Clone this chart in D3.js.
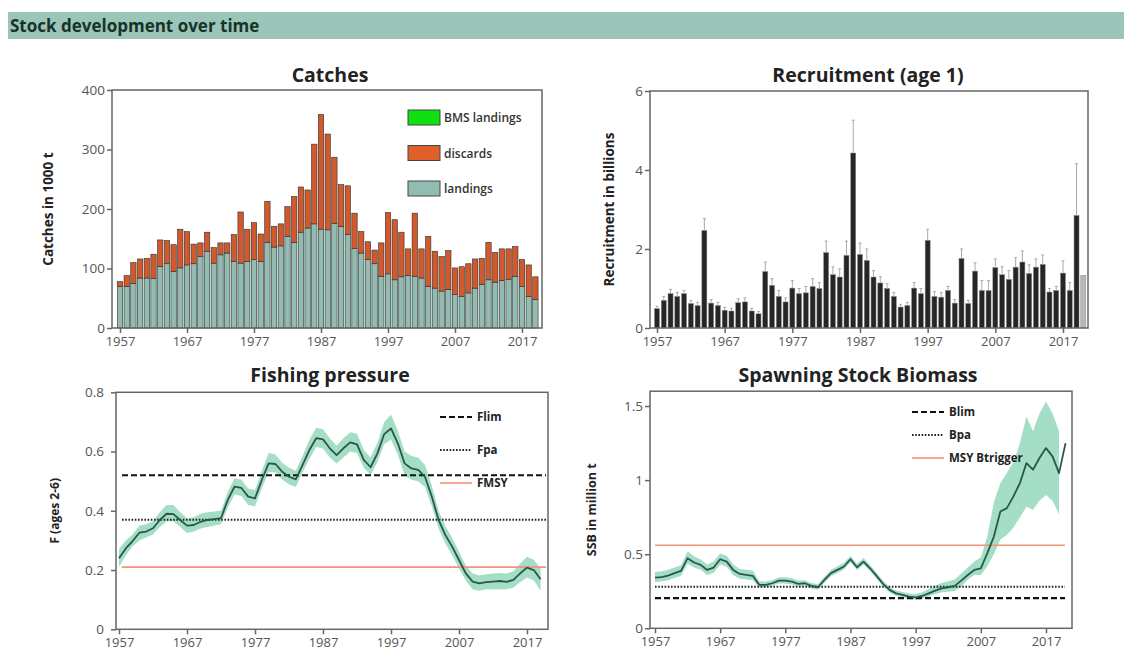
<!DOCTYPE html>
<html>
  <head>
    <meta charset="utf-8" />
    <title>Stock development over time</title>
    <style>
      body {
        margin: 0;
        background: #fff;
      }
      text {
        font-family: "Open Sans", sans-serif;
      }
    </style>
    <script src="https://cdn.jsdelivr.net/npm/d3@7"></script>
  </head>
  <body>
    <svg id="chart" width="1124" height="653"></svg>
    <script>
      // years
      var catchYears = d3.range(1957, 2020);
      var recYears = d3.range(1957, 2021);
      var fYears = d3.range(1957, 2020);
      var ssbYears = d3.range(1957, 2021);
      var tickYears = [1957, 1967, 1977, 1987, 1997, 2007, 2017];

      // catches (1000 t)
      var landings = [70,70,75,84,84,83,103,108,95,101, 106,108,120,129,109,123,126,112,109,112,
        115,112,144,136,138,154,144,161,168,175, 166,165,176,171,157,134,126,115,108,87,
        91,81,86,88,87,84,70,67,62,65, 56,53,59,67,73,81,77,80,82,87, 70,53,48];
      var discards = [8,18,35,32,33,41,45,39,45,65, 56,33,23,32,26,20,17,45,86,54,
        62,46,69,35,37,50,77,76,64,134, 193,161,111,70,82,59,36,30,23,56,
        103,101,75,45,106,49,84,62,58,65, 45,50,49,49,44,63,50,53,51,50, 45,53,38];

      // recruitment (billions), last year is an assumed value
      var recruitment = [0.49,0.70,0.87,0.80,0.87,0.62,0.57,2.47,0.63,0.57, 0.45,0.43,0.64,0.66,0.43,0.36,1.43,1.08,0.80,0.66,
        1.01,0.87,0.89,1.05,1.0,1.91,1.35,1.29,1.84,4.43, 1.86,1.71,1.29,1.14,1.0,0.80,0.53,0.57,1.01,0.87,
        2.22,0.80,0.78,0.95,0.63,1.76,0.62,1.44,0.95,0.95, 1.53,1.35,1.23,1.54,1.67,1.38,1.54,1.61,0.91,0.95,
        1.39,0.95,2.85,1.33];
      var recHigh = [0.55,0.8,0.98,0.9,0.95,0.7,0.65,2.77,0.72,0.65, 0.52,0.5,0.74,0.76,0.5,0.42,1.67,1.25,0.95,0.76,
        1.2,1.0,1.05,1.25,1.15,2.2,1.55,1.5,2.2,5.26, 2.15,2.0,1.45,1.3,1.12,0.9,0.6,0.65,1.15,1.0,
        2.5,0.92,0.9,1.05,0.72,2.0,0.7,1.65,1.2,1.2, 1.75,1.55,1.45,1.78,1.95,1.6,1.75,1.85,1.0,1.05,
        1.7,1.15,4.16];

      // fishing mortality F (ages 2-6)
      var fMean = [0.24,0.273,0.298,0.326,0.33,0.341,0.369,0.39,0.389,0.369, 0.35,0.352,0.363,0.369,0.372,0.375,0.437,0.482,0.477,0.448,
        0.442,0.504,0.56,0.558,0.532,0.515,0.506,0.555,0.605,0.645, 0.641,0.611,0.588,0.611,0.631,0.624,0.572,0.547,0.594,0.659,
        0.678,0.628,0.56,0.543,0.538,0.515,0.448,0.369,0.318,0.279, 0.234,0.189,0.161,0.155,0.159,0.161,0.163,0.16,0.167,0.189,
        0.208,0.2,0.169];
      var fLow = [0.21,0.25,0.28,0.30,0.31,0.32,0.345,0.365,0.365,0.345, 0.325,0.33,0.34,0.345,0.35,0.355,0.41,0.455,0.45,0.42,
        0.415,0.475,0.53,0.53,0.505,0.49,0.48,0.53,0.575,0.615, 0.61,0.58,0.56,0.58,0.6,0.595,0.545,0.52,0.565,0.625,
        0.64,0.59,0.52,0.505,0.5,0.48,0.415,0.34,0.29,0.25, 0.205,0.165,0.135,0.13,0.135,0.135,0.135,0.135,0.14,0.16,
        0.175,0.165,0.13];
      var fHigh = [0.27,0.30,0.32,0.35,0.355,0.365,0.395,0.42,0.42,0.395, 0.375,0.378,0.39,0.395,0.398,0.4,0.465,0.51,0.505,0.475,
        0.47,0.535,0.595,0.59,0.562,0.545,0.535,0.585,0.64,0.68, 0.675,0.645,0.62,0.645,0.665,0.66,0.605,0.58,0.63,0.7,
        0.725,0.67,0.6,0.585,0.58,0.555,0.485,0.4,0.348,0.308, 0.262,0.215,0.188,0.182,0.186,0.188,0.19,0.188,0.196,0.222,
        0.245,0.235,0.205];
      var fRefs = [
        { name: "Flim", value: 0.52, type: "dash" },
        { name: "Fpa", value: 0.37, type: "dot" },
        { name: "FMSY", value: 0.21, type: "msy" }
      ];

      // SSB (million t)
      var ssb = [0.342,0.345,0.356,0.372,0.387,0.473,0.444,0.428,0.394,0.41, 0.466,0.45,0.394,0.367,0.36,0.354,0.293,0.293,0.304,0.322,
        0.322,0.315,0.3,0.304,0.286,0.277,0.327,0.372,0.394,0.417, 0.466,0.412,0.45,0.405,0.354,0.3,0.259,0.236,0.225,0.214,
        0.209,0.218,0.236,0.254,0.27,0.277,0.286,0.322,0.36,0.394, 0.405,0.507,0.619,0.788,0.811,0.89,0.98,1.115,1.07,1.149,
        1.216,1.16,1.047,1.25];
      var ssbLow = [0.31,0.315,0.325,0.34,0.355,0.435,0.41,0.395,0.36,0.375, 0.43,0.415,0.36,0.335,0.33,0.325,
        0.275,0.275,0.285,0.302,0.302,0.295,0.28,0.285,0.268,0.26, 0.308,0.352,0.374,0.397,0.445,0.392,0.43,0.385,0.335,0.282,
        0.242,0.22,0.209,0.198,0.193,0.2,0.215,0.23,0.243,0.247, 0.252,0.28,
        0.33,0.36,0.36,0.42,0.5,0.6,0.63,0.68,0.75,0.82,0.8,0.86,0.9,0.86,0.77];
      var ssbHigh = [0.38,0.385,0.395,0.41,0.425,0.52,0.485,0.465,0.43,0.45, 0.505,0.49,0.43,0.4,0.395,0.39,
        0.315,0.315,0.325,0.345,0.345,0.338,0.322,0.325,0.306,0.297, 0.348,0.395,0.418,0.442,0.49,0.435,0.475,0.428,0.375,0.32,
        0.278,0.255,0.245,0.235,0.232,0.243,0.265,0.288,0.305,0.318, 0.33,0.37,
        0.41,0.45,0.48,0.62,0.85,0.98,1.05,1.12,1.25,1.43,1.33,1.45,1.53,1.45,1.33];
      var ssbRefs = [
        { name: "Blim", value: 0.203, type: "dash" },
        { name: "Bpa", value: 0.28, type: "dot" },
        { name: "MSY Btrigger", value: 0.56, type: "msy" }
      ];

      var svg = d3.select("#chart");

      // header bar
      svg.append("rect").attr("x", 8).attr("y", 12).attr("width", 1116).attr("height", 27).attr("fill", "#9bc5b9");
      svg.append("text").attr("x", 10).attr("y", 31.5).attr("font-size", 17).attr("font-weight", 700)
        .attr("fill", "#173328").text("Stock development over time");

      var axisColor = "#666";

      // draws box, axes, title and y label for one panel
      function panel(o) {
        var g = svg.append("g");
        var x = d3.scaleLinear().domain([1957, 2017]).range(o.xr);
        var y = d3.scaleLinear().domain(o.yd).range([o.bottom, o.top]);
        g.append("text").attr("x", o.titleX).attr("y", o.titleY).attr("text-anchor", "middle")
          .attr("font-size", 19.5).attr("font-weight", 700).attr("fill", "#222").text(o.title);
        g.append("text").attr("transform", "translate(" + o.labelX + "," + ((o.top + o.bottom) / 2) + ") rotate(-90)")
          .attr("text-anchor", "middle").attr("font-size", o.labelSize).attr("font-weight", 700).attr("fill", "#222").text(o.label);
        var yAxis = g.append("g").attr("transform", "translate(" + o.left + ",0)")
          .call(d3.axisLeft(y).tickValues(o.yticks).tickSize(5).tickPadding(o.yPad || 2).tickFormat(o.yfmt || d3.format("")));
        var xAxis = g.append("g").attr("transform", "translate(0," + o.bottom + ")")
          .call(d3.axisBottom(x).tickValues(tickYears).tickSize(5).tickPadding(3.5).tickFormat(d3.format("d")));
        [yAxis, xAxis].forEach(function (a) {
          a.select(".domain").remove();
          a.selectAll("line").attr("stroke", axisColor).attr("stroke-width", 1.5);
          a.selectAll("text").attr("fill", "#555").style("font-family", "Open Sans, sans-serif");
        });
        yAxis.selectAll("text").attr("font-size", 13.5);
        xAxis.selectAll("text").attr("font-size", 13);
        var marks = svg.append("g");
        svg.append("rect").attr("x", o.left).attr("y", o.top).attr("width", o.right - o.left)
          .attr("height", o.bottom - o.top).attr("fill", "none").attr("stroke", axisColor).attr("stroke-width", 1.5);
        return { x: x, y: y, g: marks };
      }

      // ---- Catches ----
      var p1 = panel({ left: 112, right: 542, top: 90, bottom: 328, xr: [120, 522], yd: [0, 400],
        yticks: [0, 100, 200, 300, 400], title: "Catches", titleX: 330, titleY: 82,
        label: "Catches in 1000 t", labelX: 53, labelSize: 13.5 });
      var step1 = p1.x(1958) - p1.x(1957);
      var catchRows = catchYears.map(function (yr, i) { return { year: yr, landings: landings[i], discards: discards[i] }; });
      var stacked = d3.stack().keys(["landings", "discards"])(catchRows);
      var catchColors = { landings: "#92bcb1", discards: "#d2592b" };
      stacked.forEach(function (s) {
        p1.g.selectAll(null).data(s).enter().append("rect")
          .attr("x", function (d) { return p1.x(d.data.year) - step1 * 0.4; })
          .attr("width", step1 * 0.8)
          .attr("y", function (d) { return p1.y(d[1]); })
          .attr("height", function (d) { return p1.y(d[0]) - p1.y(d[1]); })
          .attr("fill", catchColors[s.key]).attr("stroke", "#2e2e2e").attr("stroke-width", 0.6);
      });
      var catchLegend = [
        { name: "BMS landings", color: "#10e010" },
        { name: "discards", color: "#e0602c" },
        { name: "landings", color: "#92bcb1" }
      ];
      var lg1 = p1.g.selectAll(null).data(catchLegend).enter().append("g")
        .attr("transform", function (d, i) { return "translate(408," + (110 + i * 35.5) + ")"; });
      lg1.append("rect").attr("width", 32).attr("height", 15).attr("fill", function (d) { return d.color; })
        .attr("stroke", "#444").attr("stroke-width", 1);
      lg1.append("text").attr("x", 36).attr("y", 12).attr("font-size", 12).attr("font-weight", 600)
        .attr("fill", "#333").text(function (d) { return d.name; });

      // ---- Recruitment ----
      var p2 = panel({ left: 650, right: 1088, top: 91, bottom: 328, xr: [657, 1063], yd: [0, 6],
        yticks: [0, 2, 4, 6], title: "Recruitment (age 1)", titleX: 868, titleY: 82,
        label: "Recruitment in billions", labelX: 614, labelSize: 13.5 });
      var step2 = p2.x(1958) - p2.x(1957);
      p2.g.selectAll(null).data(recYears).enter().append("rect")
        .attr("x", function (d) { return p2.x(d) - step2 * 0.37; })
        .attr("width", step2 * 0.74)
        .attr("y", function (d, i) { return p2.y(recruitment[i]); })
        .attr("height", function (d, i) { return p2.y(0) - p2.y(recruitment[i]); })
        .attr("fill", function (d, i) { return i === recYears.length - 1 ? "#b8b8b8" : "#262626"; })
        .attr("stroke", "#888").attr("stroke-width", 0.5);
      var errs = p2.g.selectAll(null).data(recHigh).enter().append("g");
      errs.append("line")
        .attr("x1", function (d, i) { return p2.x(recYears[i]); })
        .attr("x2", function (d, i) { return p2.x(recYears[i]); })
        .attr("y1", function (d, i) { return p2.y(recruitment[i]); })
        .attr("y2", function (d) { return p2.y(d); })
        .attr("stroke", "#aaa").attr("stroke-width", 1);
      errs.append("line")
        .attr("x1", function (d, i) { return p2.x(recYears[i]) - 1.5; })
        .attr("x2", function (d, i) { return p2.x(recYears[i]) + 1.5; })
        .attr("y1", function (d) { return p2.y(d); })
        .attr("y2", function (d) { return p2.y(d); })
        .attr("stroke", "#aaa").attr("stroke-width", 1);

      // reference line styling
      function refStyle(sel, t) {
        if (t === "dash") sel.attr("stroke", "#111").attr("stroke-width", 2.2).attr("stroke-dasharray", "6,3");
        else if (t === "dot") sel.attr("stroke", "#222").attr("stroke-width", 2).attr("stroke-dasharray", "1.6,1.6");
        else sel.attr("stroke", "#f2937a").attr("stroke-width", 1.6);
      }

      function lineBand(p, years, mean, low, high, refs, legX, legY, legStep, refX0, refX1) {
        var band = d3.area()
          .x(function (d, i) { return p.x(years[i]); })
          .y0(function (d, i) { return p.y(low[i]); })
          .y1(function (d, i) { return p.y(high[i]); });
        p.g.append("path").datum(low).attr("d", band).attr("fill", "#95d8bd").attr("opacity", 0.85);
        refs.forEach(function (r) {
          p.g.append("line").attr("x1", refX0).attr("x2", refX1)
            .attr("y1", p.y(r.value)).attr("y2", p.y(r.value)).call(refStyle, r.type);
        });
        var line = d3.line().x(function (d, i) { return p.x(years[i]); }).y(function (d) { return p.y(d); });
        p.g.append("path").datum(mean).attr("d", line).attr("fill", "none").attr("stroke", "#2b5747")
          .attr("stroke-width", 1.8).attr("stroke-linejoin", "round");
        var lg = p.g.selectAll(null).data(refs).enter().append("g")
          .attr("transform", function (d, i) { return "translate(" + legX + "," + (legY + i * legStep) + ")"; });
        lg.append("line").attr("x1", 0).attr("x2", 32).attr("y1", 0).attr("y2", 0)
          .each(function (d) { d3.select(this).call(refStyle, d.type); });
        lg.append("text").attr("x", 37).attr("y", 4).attr("font-size", 11.5).attr("font-weight", 700)
          .attr("fill", "#222").text(function (d) { return d.name; });
      }

      // ---- Fishing pressure ----
      var p3 = panel({ left: 116, right: 548, top: 392.3, bottom: 629.3, xr: [119, 527], yd: [0, 0.8],
        yticks: [0, 0.2, 0.4, 0.6, 0.8], yfmt: function (d) { return d === 0 ? "0" : d3.format(".1f")(d); },
        yPad: 7, title: "Fishing pressure", titleX: 330, titleY: 382, label: "F (ages 2-6)", labelX: 59, labelSize: 12 });
      lineBand(p3, fYears, fMean, fLow, fHigh, fRefs, 440, 417, 33, 122, 546);

      // ---- Spawning Stock Biomass ----
      var p4 = panel({ left: 650, right: 1072, top: 391.2, bottom: 628.3, xr: [655, 1046], yd: [0, 1.6],
        yticks: [0, 0.5, 1, 1.5], title: "Spawning Stock Biomass", titleX: 858, titleY: 382,
        label: "SSB in million t", labelX: 596, labelSize: 12.5 });
      lineBand(p4, ssbYears, ssb, ssbLow, ssbHigh, ssbRefs, 912, 412, 23, 655, 1065);
    </script>
  </body>
</html>
